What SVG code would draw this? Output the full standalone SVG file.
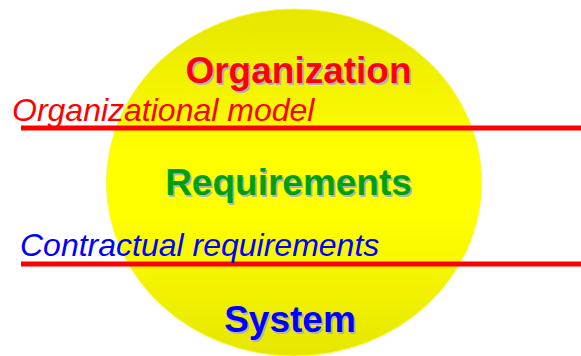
<svg xmlns="http://www.w3.org/2000/svg" xmlns:xlink="http://www.w3.org/1999/xlink" width="581" height="356" viewBox="0 0 581 356">
<style>
.big{font-family:"Liberation Sans",Arial,sans-serif;font-weight:bold;font-size:37px;text-anchor:middle}
.lab{font-family:"Liberation Sans",Arial,sans-serif;font-style:italic;font-size:32px}
.sh{fill:#b0b0c0}
.ln{stroke:#ff0000;stroke-width:5;fill:none}
</style>
<defs>
<linearGradient id="g" x1="0" y1="0" x2="0" y2="1">
<stop offset="0" stop-color="#e6e600"/>
<stop offset="0.42" stop-color="#ffff00"/>
<stop offset="0.6" stop-color="#ffff00"/>
<stop offset="1" stop-color="#e6e600"/>
</linearGradient>
</defs>
<rect width="581" height="356" fill="#ffffff"/>
<g id="circle">
<ellipse cx="294" cy="182.5" rx="187.5" ry="173.5" fill="url(#g)" stroke="#f8f840" stroke-width="1"/>
</g>
<g id="organization">
<text class="big sh" x="300" y="84.5">Organization</text>
<text class="big" x="298.5" y="83" fill="#ff0000">Organization</text>
</g>
<g id="requirements">
<text class="big sh" x="290" y="196.5">Requirements</text>
<text class="big" x="288.5" y="195" fill="#00a000">Requirements</text>
</g>
<g id="system">
<text class="big sh" x="291.5" y="333.5">System</text>
<text class="big" x="290" y="332" fill="#0000ff">System</text>
</g>
<g id="connectors">
<line class="ln" x1="21" y1="128" x2="581" y2="128"/>
<line class="ln" x1="21" y1="264" x2="581" y2="264"/>
</g>
<g id="organizational-model">
<text class="lab" x="12" y="121" fill="#ff0000">Organizational model</text>
</g>
<g id="contractual-requirements">
<text class="lab" x="20" y="256" fill="#0000ff">Contractual requirements</text>
</g>
</svg>
